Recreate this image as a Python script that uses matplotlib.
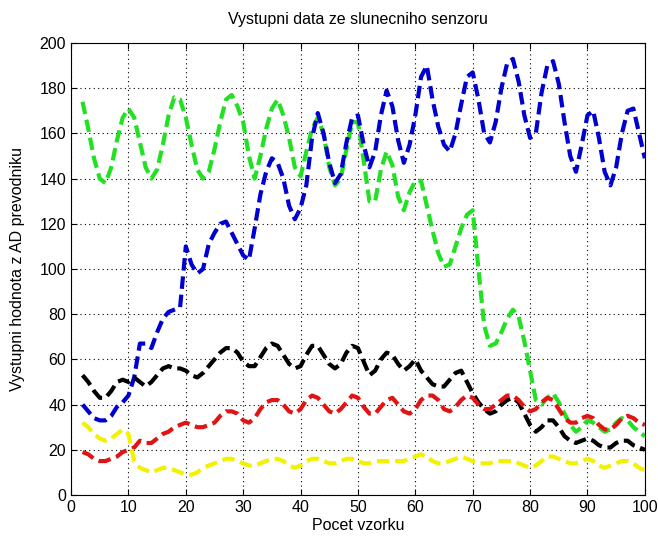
import numpy as np
import matplotlib
matplotlib.use("Agg")
import matplotlib.pyplot as plt

plt.rcParams["font.family"] = ["Liberation Sans", "DejaVu Sans"]

# vzorky 2..100
x = np.arange(2, 101)

blue = [40, 37, 34, 33, 33, 35, 39, 41, 44, 52, 67, 67, 65, 72, 78, 81, 82, 83,
        110, 102, 98, 100, 111, 116, 120, 121, 116, 111, 106, 104, 118, 133, 143,
        149, 147, 140, 128, 122, 127, 137, 158, 169, 160, 147, 138, 142, 156, 167,
        168, 155, 145, 152, 168, 179, 172, 157, 147, 155, 168, 185, 190, 175, 163,
        155, 152, 160, 173, 185, 187, 175, 160, 156, 165, 180, 191, 193, 183, 168,
        158, 160, 178, 190, 192, 182, 165, 150, 143, 155, 168, 170, 158, 143, 137,
        145, 160, 170, 171, 160, 149]

green = [174, 162, 149, 140, 138, 145, 157, 167, 171, 167, 156, 145, 140, 144, 155,
         168, 176, 175, 167, 155, 144, 140, 143, 153, 165, 175, 177, 172, 165, 150,
         140, 150, 162, 171, 175, 168, 158, 145, 141, 152, 162, 167, 160, 145, 137,
         140, 153, 165, 165, 148, 130, 130, 144, 152, 146, 132, 126, 134, 139, 139,
         128, 117, 107, 101, 102, 110, 118, 124, 126, 100, 75, 66, 67, 72, 78, 82,
         79, 68, 55, 42, 40, 43, 45, 41, 36, 31, 28, 30, 33, 32, 30, 28, 29, 32, 34,
         33, 30, 28, 26]

black = [53, 50, 46, 43, 43, 46, 50, 51, 50, 52, 50, 48, 50, 53, 56, 57, 56, 56, 55,
         53, 52, 54, 57, 60, 63, 65, 65, 63, 59, 57, 57, 61, 65, 67, 66, 62, 58, 56,
         57, 62, 66, 66, 62, 58, 56, 58, 63, 66, 65, 59, 53, 55, 60, 63, 62, 58, 55,
         57, 60, 55, 52, 49, 48, 48, 51, 54, 55, 50, 45, 41, 38, 36, 37, 40, 42, 43,
         41, 36, 31, 28, 30, 33, 33, 30, 26, 24, 23, 24, 25, 24, 22, 21, 21, 23, 24,
         24, 22, 21, 20]

red = [19, 18, 16, 15, 15, 16, 17, 19, 20, 21, 24, 23, 23, 25, 27, 28, 30, 31, 32,
       31, 30, 30, 31, 32, 35, 37, 37, 36, 33, 32, 34, 38, 41, 42, 42, 40, 37, 36,
       38, 42, 44, 43, 40, 37, 36, 38, 41, 44, 43, 39, 36, 36, 39, 42, 43, 40, 37,
       36, 38, 42, 44, 44, 42, 38, 37, 39, 42, 44, 43, 40, 38, 38, 40, 42, 44, 44,
       42, 39, 37, 38, 41, 43, 42, 38, 34, 32, 32, 34, 35, 34, 31, 29, 29, 31, 34,
       35, 34, 32, 31]

yellow = [32, 30, 27, 25, 24, 25, 27, 29, 27, 15, 12, 11, 10, 11, 12, 12, 11, 10, 9,
          9, 10, 12, 13, 14, 15, 16, 16, 15, 14, 13, 13, 14, 15, 16, 16, 15, 13, 12,
          13, 15, 16, 16, 15, 14, 14, 15, 16, 16, 15, 14, 14, 15, 15, 15, 15, 15, 15,
          16, 17, 18, 17, 15, 14, 14, 15, 16, 17, 16, 15, 14, 14, 14, 15, 15, 15, 15,
          14, 13, 12, 13, 15, 17, 17, 16, 15, 14, 14, 15, 16, 15, 13, 12, 13, 14, 15,
          15, 14, 12, 11]

fig = plt.figure(figsize=(6.58, 5.38), dpi=100)
ax = fig.add_axes([0.108, 0.080, 0.872, 0.840])

dash = (0, (3, 1.4))
lw = 3.0
ax.plot(x, green, color="#22e022", lw=lw, ls=dash)
ax.plot(x, blue, color="#0000d0", lw=lw, ls=dash)
ax.plot(x, black, color="black", lw=lw, ls=dash)
ax.plot(x, red, color="#e01414", lw=lw, ls=dash)
ax.plot(x, yellow, color="#f2f200", lw=lw, ls=dash)

ax.set_xlim(0, 100)
ax.set_ylim(0, 200)
ax.set_xticks(range(0, 101, 10))
ax.set_yticks(range(0, 201, 20))
ax.grid(True, color="black", linestyle=(0, (1, 3)), linewidth=0.8)
ax.tick_params(direction="in", top=True, right=True, labelsize=11.5, length=4)
for s in ax.spines.values():
    s.set_linewidth(0.8)

ax.set_title("Vystupni data ze slunecniho senzoru", fontsize=11.5, pad=14)
ax.set_xlabel("Pocet vzorku", fontsize=11.5, labelpad=2)
ax.set_ylabel("Vystupni hodnota z AD prevodniku", fontsize=11.5)
ax.yaxis.set_label_coords(-0.08, 0.5)

fig.savefig("out.png", dpi=100)
